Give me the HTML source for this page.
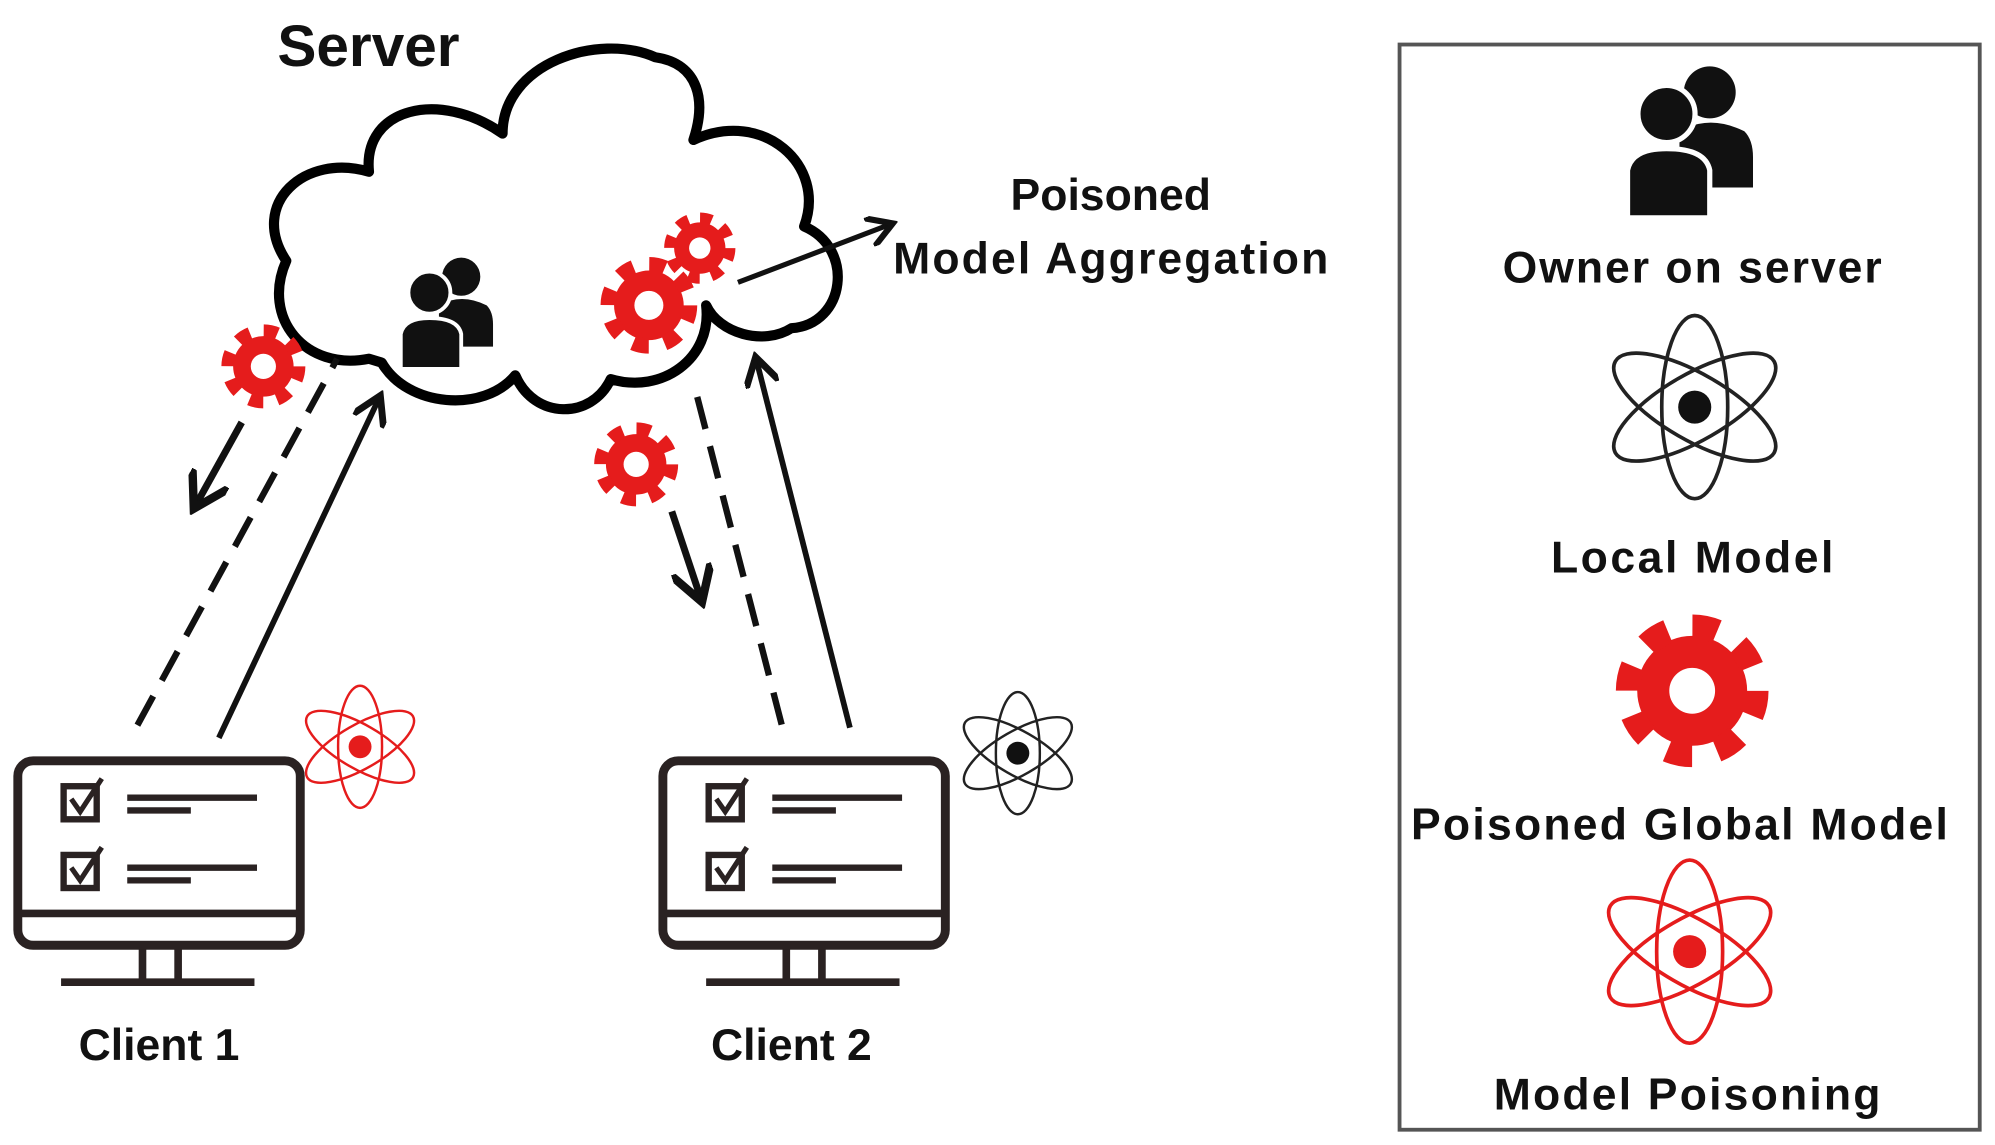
<!DOCTYPE html>
<html><head><meta charset="utf-8"><style>
html,body{margin:0;padding:0;background:#fff;}
svg{display:block;}
text{font-family:"Liberation Sans",sans-serif;font-weight:bold;fill:#111;}
</style></head><body>
<svg width="1995" height="1145" viewBox="0 0 1568 900" preserveAspectRatio="none" xmlns="http://www.w3.org/2000/svg">
<defs>
<g id="gear">
<circle r="0.72" fill="#e51c1c"/>
<circle r="0.84" fill="none" stroke="#e51c1c" stroke-width="0.32" stroke-dasharray="0.33 0.33"/>
<circle r="0.3" fill="#fff"/>
</g>
<g id="atom" fill="none">
<ellipse rx="0.36" ry="1" stroke-width="0.04"/>
<ellipse rx="0.36" ry="1" transform="rotate(60)" stroke-width="0.04"/>
<ellipse rx="0.36" ry="1" transform="rotate(120)" stroke-width="0.04"/>
</g>
<g id="users">
<circle cx="0.35" cy="-0.55" r="0.3" fill="#111"/>
<path d="M0.0,0.55 L0.0,-0.1 Q0.35,-0.3 0.75,-0.1 Q0.85,0 0.85,0.2 L0.85,0.55 Z" fill="#111"/>
<circle cx="-0.15" cy="-0.3" r="0.33" fill="#111" stroke="#fff" stroke-width="0.06"/>
<path d="M-0.6,0.9 L-0.6,0.35 Q-0.55,0.1 -0.15,0.1 Q0.3,0.1 0.35,0.35 L0.35,0.9 Z" fill="#111" stroke="#fff" stroke-width="0.06"/>
</g>
<marker id="ah" markerWidth="6" markerHeight="6" refX="4" refY="3" orient="auto" markerUnits="strokeWidth"><path d="M0,0 L5,3 L0,6" fill="none" stroke="#111" stroke-width="1.2"/></marker>
</defs>

<!-- cloud -->
<path d="M290,282 C240,292 205,250 225,205 C195,160 240,120 290,135 C285,85 345,70 395,105 C395,50 470,25 515,45 C550,50 555,80 545,110 C600,85 650,130 632,178 C672,195 665,255 622,258 C600,272 565,262 555,240 C560,282 520,310 480,298 C465,330 420,330 405,295 C380,325 320,320 300,285 Z" fill="#fff" stroke="#000" stroke-width="8" stroke-linejoin="round"/>
<text x="218" y="52" font-size="46">Server</text>

<use href="#users" transform="translate(345,245) scale(50)"/>
<use href="#gear" transform="translate(510,240) scale(38)"/>
<use href="#gear" transform="translate(550,195) scale(28)"/>
<line x1="580" y1="222" x2="698" y2="177" stroke="#111" stroke-width="4" marker-end="url(#ah)"/>
<text x="873" y="165" font-size="35" text-anchor="middle">Poisoned</text>
<text x="873" y="215" font-size="35" text-anchor="middle" textLength="342">Model Aggregation</text>

<!-- connectors -->
<line x1="108" y1="570" x2="265" y2="282" stroke="#111" stroke-width="5" stroke-dasharray="26 14"/>
<line x1="172" y1="580" x2="297" y2="315" stroke="#111" stroke-width="4.5" marker-end="url(#ah)"/>
<line x1="190" y1="332" x2="155" y2="395" stroke="#111" stroke-width="5.5" marker-end="url(#ah)"/>
<use href="#gear" transform="translate(207,288) scale(33)"/>
<line x1="548" y1="312" x2="615" y2="572" stroke="#111" stroke-width="5" stroke-dasharray="26 14"/>
<line x1="668" y1="572" x2="595" y2="285" stroke="#111" stroke-width="4.5" marker-end="url(#ah)"/>
<line x1="528" y1="402" x2="550" y2="468" stroke="#111" stroke-width="5.5" marker-end="url(#ah)"/>
<use href="#gear" transform="translate(500,365) scale(33)"/>

<!-- monitors -->
<g stroke="#2a2222" fill="none">
<rect x="14" y="598" width="222" height="145" rx="12" stroke-width="7"/>
<line x1="14" y1="718" x2="236" y2="718" stroke-width="6"/>
<line x1="112" y1="743" x2="112" y2="772" stroke-width="6"/><line x1="140" y1="743" x2="140" y2="772" stroke-width="6"/>
<line x1="48" y1="772" x2="200" y2="772" stroke-width="6"/>
<rect x="50" y="618" width="26" height="26" stroke-width="5"/><rect x="50" y="672" width="26" height="26" stroke-width="5"/>
<path d="M56,628 L63,638 L80,612 M56,682 L63,692 L80,666" stroke-width="4"/>
<line x1="100" y1="627" x2="202" y2="627" stroke-width="5"/><line x1="100" y1="637" x2="150" y2="637" stroke-width="5"/>
<line x1="100" y1="682" x2="202" y2="682" stroke-width="5"/><line x1="100" y1="692" x2="150" y2="692" stroke-width="5"/>
<rect x="521" y="598" width="222" height="145" rx="12" stroke-width="7"/>
<line x1="521" y1="718" x2="743" y2="718" stroke-width="6"/>
<line x1="618" y1="743" x2="618" y2="772" stroke-width="6"/><line x1="646" y1="743" x2="646" y2="772" stroke-width="6"/>
<line x1="555" y1="772" x2="707" y2="772" stroke-width="6"/>
<rect x="557" y="618" width="26" height="26" stroke-width="5"/><rect x="557" y="672" width="26" height="26" stroke-width="5"/>
<path d="M563,628 L570,638 L587,612 M563,682 L570,692 L587,666" stroke-width="4"/>
<line x1="607" y1="627" x2="709" y2="627" stroke-width="5"/><line x1="607" y1="637" x2="657" y2="637" stroke-width="5"/>
<line x1="607" y1="682" x2="709" y2="682" stroke-width="5"/><line x1="607" y1="692" x2="657" y2="692" stroke-width="5"/>
</g>
<use href="#atom" transform="translate(283,587) scale(48)" stroke="#e51c1c"/>
<circle cx="283" cy="587" r="9" fill="#e51c1c"/>
<use href="#atom" transform="translate(800,592) scale(48)" stroke="#222"/>
<circle cx="800" cy="592" r="9" fill="#111"/>
<text x="125" y="833" font-size="35" text-anchor="middle">Client 1</text>
<text x="622" y="833" font-size="35" text-anchor="middle">Client 2</text>

<!-- legend -->
<rect x="1100" y="35" width="456" height="853" fill="none" stroke="#555" stroke-width="3"/>
<use href="#users" transform="translate(1320,110) scale(68)"/>
<text x="1330" y="222" font-size="35" text-anchor="middle" textLength="298">Owner on server</text>
<use href="#atom" transform="translate(1332,320) scale(72)" stroke="#222"/>
<circle cx="1332" cy="320" r="13" fill="#111"/>
<text x="1330" y="450" font-size="35" text-anchor="middle" textLength="222">Local Model</text>
<use href="#gear" transform="translate(1330,543) scale(60)"/>
<text x="1320" y="660" font-size="35" text-anchor="middle" textLength="422">Poisoned Global Model</text>
<use href="#atom" transform="translate(1328,748) scale(72)" stroke="#e51c1c"/>
<circle cx="1328" cy="748" r="13" fill="#e51c1c"/>
<text x="1326" y="872" font-size="35" text-anchor="middle" textLength="304">Model Poisoning</text>
</svg>
</body></html>
